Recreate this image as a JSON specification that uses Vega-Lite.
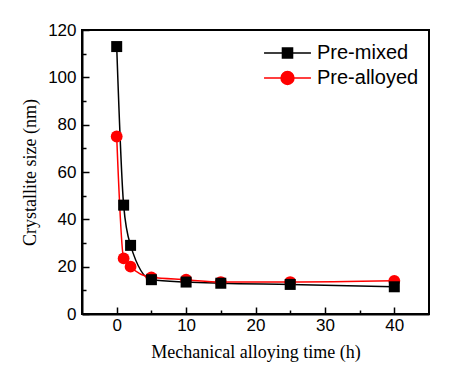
{
  "$schema": "https://vega.github.io/schema/vega-lite/v6.json",
  "autosize": {"type": "none"},
  "padding": {"left": 82, "top": 30, "right": 35, "bottom": 59},
  "width": 347,
  "height": 284,
  "background": "white",
  "config": {
    "view": {"stroke": "black", "strokeWidth": 2},
    "axis": {
      "domainColor": "black", "domainWidth": 2, "tickColor": "black", "tickWidth": 1.5,
      "labelFont": "Liberation Sans", "labelFontSize": 17, "labelColor": "black",
      "titleFont": "Liberation Serif", "titleFontSize": 18, "titleFontWeight": "normal", "titleColor": "black",
      "grid": false
    }
  },
  "data": {"values": [
    {"t": 0, "size": 113, "series": "Pre-mixed"},
    {"t": 1, "size": 46, "series": "Pre-mixed"},
    {"t": 2, "size": 29, "series": "Pre-mixed"},
    {"t": 5, "size": 14.5, "series": "Pre-mixed"},
    {"t": 10, "size": 13.5, "series": "Pre-mixed"},
    {"t": 15, "size": 13, "series": "Pre-mixed"},
    {"t": 25, "size": 12.5, "series": "Pre-mixed"},
    {"t": 40, "size": 11.5, "series": "Pre-mixed"},
    {"t": 0, "size": 75, "series": "Pre-alloyed"},
    {"t": 1, "size": 23.5, "series": "Pre-alloyed"},
    {"t": 2, "size": 20, "series": "Pre-alloyed"},
    {"t": 5, "size": 15.5, "series": "Pre-alloyed"},
    {"t": 10, "size": 14.5, "series": "Pre-alloyed"},
    {"t": 15, "size": 13.5, "series": "Pre-alloyed"},
    {"t": 25, "size": 13.5, "series": "Pre-alloyed"},
    {"t": 40, "size": 14, "series": "Pre-alloyed"}
  ]},
  "encoding": {
    "x": {"field": "t", "type": "quantitative", "scale": {"domain": [-5, 45], "nice": false, "zero": false},
      "axis": {"title": "Mechanical alloying time (h)", "values": [0,5,10,15,20,25,30,35,40],
        "labelExpr": "datum.value % 10 === 0 ? datum.label : ''",
        "tickSize": {"condition": {"test": "datum.value % 10 === 0", "value": -7}, "value": -4},
        "labelPadding": 10, "titlePadding": 10}},
    "y": {"field": "size", "type": "quantitative", "scale": {"domain": [0, 120], "nice": false},
      "axis": {"title": "Crystallite size (nm)", "values": [0,10,20,30,40,50,60,70,80,90,100,110,120],
        "labelExpr": "datum.value % 20 === 0 ? datum.label : ''",
        "tickSize": {"condition": {"test": "datum.value % 20 === 0", "value": -7}, "value": -4},
        "labelPadding": 13, "titlePadding": 8}}
  },
  "layer": [
    {
      "mark": {"type": "line", "interpolate": "monotone", "strokeWidth": 1.5},
      "encoding": {
        "color": {"field": "series", "type": "nominal", "scale": {"domain": ["Pre-mixed", "Pre-alloyed"], "range": ["#000000", "#ff0000"]}}
      }
    },
    {
      "transform": [{"filter": "datum.series === 'Pre-alloyed'"}],
      "mark": {"type": "point", "shape": "circle", "filled": true, "size": 140, "color": "#ff0000", "opacity": 1}
    },
    {
      "transform": [{"filter": "datum.series === 'Pre-mixed'"}],
      "mark": {"type": "point", "shape": "square", "filled": true, "size": 121, "color": "#000000", "opacity": 1}
    },
    {
      "mark": {"type": "point", "filled": true, "opacity": 0, "size": 550, "strokeWidth": 1.5},
      "encoding": {
        "color": {"field": "series", "type": "nominal", "scale": {"domain": ["Pre-mixed", "Pre-alloyed"], "range": ["#000000", "#ff0000"]},
          "legend": {"title": null, "orient": "none", "legendX": 193, "legendY": 10.5, "labelFont": "Liberation Sans", "labelFontSize": 20, "labelColor": "black", "labelOffset": 17, "rowPadding": 2, "padding": 0,
            "symbolStrokeWidth": 1.5, "symbolSize": 550,
            "encode": {"symbols": {"update": {"opacity": {"value": 1}, "stroke": {"signal": "datum.value === 'Pre-mixed' ? '#000000' : '#ff0000'"}, "fill": {"signal": "datum.value === 'Pre-mixed' ? '#000000' : '#ff0000'"}}}}}},
        "shape": {"field": "series", "type": "nominal", "scale": {"domain": ["Pre-mixed", "Pre-alloyed"], "range": ["M-2,0H2M-0.43,-0.43H0.43V0.43H-0.43Z", "M-2,0H2M-0.55,0A0.55,0.55 0 1,0 0.55,0A0.55,0.55 0 1,0 -0.55,0Z"]}}
      }
    }
  ]
}
